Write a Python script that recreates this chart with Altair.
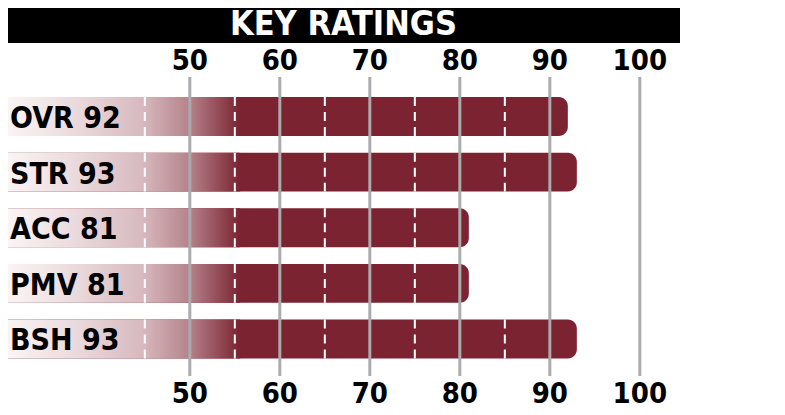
import altair as alt
import pandas as pd

# ---- data ----
categories = ["OVR", "STR", "ACC", "PMV", "BSH"]
ratings = [92, 93, 81, 81, 93]
grid_ticks = [50, 60, 70, 80, 90, 100]
dash_ticks = [45, 55, 65, 75, 85]
title_text = ["KEY RATINGS"]
bar_start = 29.8
fade_end = 55.6
x_domain = [29.8, 115.24]

BAR_COLOR = "#7b2331"
LABEL_FONT = "DejaVu Sans Condensed, DejaVu Sans, sans-serif"
TITLE_FONT = "DejaVu Sans Condensed, DejaVu Sans, sans-serif"

bars_df = pd.DataFrame({
    "cat": categories,
    "rating": ratings,
    "start": [bar_start] * len(categories),
    "fade": [fade_end] * len(categories),
    "label": [f"{c} {r}" for c, r in zip(categories, ratings)],
})
dash_df = pd.DataFrame(
    [{"cat": c, "tick": t} for c, r in zip(categories, ratings) for t in dash_ticks if t < r]
)
grid_df = pd.DataFrame({"tick": grid_ticks})
title_df = pd.DataFrame({"t": title_text})

xs = alt.Scale(domain=x_domain, nice=False, zero=False)
ys = alt.Scale(domain=categories, range=[80.7, 358.8], paddingInner=0.3, paddingOuter=0.15)

gradient = alt.LinearGradient(
    gradient="linear", x1=0, x2=1, y1=0, y2=0,
    stops=[
        alt.GradientStop(offset=0.0, color="#faf4f5"),
        alt.GradientStop(offset=0.3, color="#ead9dc"),
        alt.GradientStop(offset=0.58, color="#d7b9be"),
        alt.GradientStop(offset=0.78, color="#b5838b"),
        alt.GradientStop(offset=1.0, color=BAR_COLOR),
    ],
)

base = alt.Chart(bars_df)

solid = base.mark_bar(color=BAR_COLOR, cornerRadiusTopRight=9, cornerRadiusBottomRight=9).encode(
    x=alt.X("start:Q", scale=xs, axis=None),
    x2="rating:Q",
    y=alt.Y("cat:N", scale=ys, axis=None, sort=categories),
)

fade = base.mark_bar(color=gradient).encode(
    x=alt.X("start:Q", scale=xs, axis=None),
    x2="fade:Q",
    y=alt.Y("cat:N", scale=ys, axis=None, sort=categories),
)

dashes = alt.Chart(dash_df).mark_rule(color="white", strokeWidth=2, strokeDash=[9, 6]).encode(
    x=alt.X("tick:Q", scale=xs, axis=None),
    y=alt.Y("cat:N", scale=ys, axis=None, sort=categories, bandPosition=0),
    y2=alt.Y2("cat", bandPosition=1),
)

grid = alt.Chart(grid_df).mark_rule(color="#ababae", strokeWidth=3).encode(
    x=alt.X("tick:Q", scale=xs, axis=None),
    y=alt.value(69),
    y2=alt.value(368),
)

top_labels = alt.Chart(grid_df).mark_text(
    font=LABEL_FONT, fontSize=29, fontWeight="bold", color="black", baseline="alphabetic"
).encode(
    x=alt.X("tick:Q", scale=xs, axis=None),
    y=alt.value(62),
    text="tick:Q",
)

bottom_labels = alt.Chart(grid_df).mark_text(
    font=LABEL_FONT, fontSize=29, fontWeight="bold", color="black", baseline="alphabetic"
).encode(
    x=alt.X("tick:Q", scale=xs, axis=None),
    y=alt.value(395),
    text="tick:Q",
)

row_labels = base.mark_text(
    font=LABEL_FONT, fontSize=30, fontWeight="bold", color="black",
    align="left", baseline="alphabetic", dy=11.5,
).encode(
    x=alt.value(2),
    y=alt.Y("cat:N", scale=ys, axis=None, sort=categories),
    text="label:N",
)

title_box = alt.Chart(title_df).mark_rect(color="black").encode(
    x=alt.value(0), x2=alt.value(672), y=alt.value(0), y2=alt.value(35)
)
title = alt.Chart(title_df).mark_text(
    font=TITLE_FONT, fontSize=34, fontWeight="bold", color="white", align="center", baseline="alphabetic"
).encode(
    x=alt.value(335.5), y=alt.value(27), text="t:N"
)

chart = alt.layer(
    title_box, title, solid, fade, dashes, grid, top_labels, bottom_labels, row_labels
).properties(
    width=769, height=399, padding=0,
    autosize=alt.AutoSizeParams(type="none"),
).configure_view(stroke=None)

chart.save("out.html", embed_options={"renderer": "svg", "actions": False})
